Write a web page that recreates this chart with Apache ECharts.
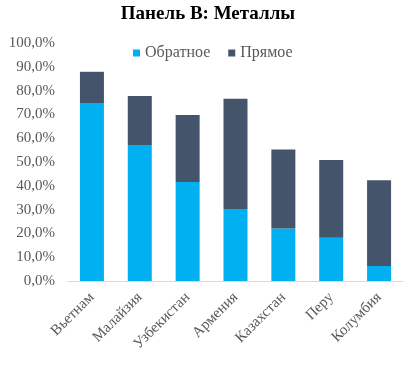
<!DOCTYPE html>
<html><head><meta charset="utf-8">
<script src="https://cdn.jsdelivr.net/npm/echarts@6/dist/echarts.min.js"></script>
<style>html,body{margin:0;padding:0;background:#fff}#c{width:416px;height:374px}</style>
</head><body><div id="c"></div>
<script>
const categories = ['Вьетнам','Малайзия','Узбекистан','Армения','Казахстан','Перу','Колумбия'];
const reverseVals = [74.8, 57.1, 41.6, 30.2, 22.1, 18.2, 6.3];
const directVals = [13.1, 20.6, 28.1, 46.4, 33.2, 32.6, 36.0];
const yTicks = [0,10,20,30,40,50,60,70,80,90,100];
const seriesNames = ['Обратное','Прямое'];
const FONT = '"Liberation Serif", "DejaVu Serif", serif';
const chart = echarts.init(document.getElementById('c'));
chart.setOption({
  animation: false,
  title: { text: 'Панель B: Металлы', left: 'center', top: 0,
    textStyle: { fontFamily: FONT, fontSize: 19, fontWeight: 'bold', color: '#000' } },
  legend: { top: 40, left: 128, itemWidth: 7, itemHeight: 7, itemGap: 18,
    icon: 'rect', textStyle: { fontFamily: FONT, fontSize: 16, color: '#595959' },
    data: seriesNames },
  grid: { left: 68, right: 13, top: 43, bottom: 93 },
  xAxis: { type: 'category', data: categories,
    axisLine: { lineStyle: { color: '#D9D9D9' } }, axisTick: { show: false },
    axisLabel: { rotate: 45, interval: 0, margin: 14, fontFamily: FONT, fontSize: 15, color: '#595959' } },
  yAxis: { type: 'value', min: yTicks[0], max: yTicks[yTicks.length-1], interval: 10,
    splitLine: { show: false }, axisLine: { show: false }, axisTick: { show: false },
    axisLabel: { fontFamily: FONT, fontSize: 15, color: '#595959', margin: 13,
      formatter: v => v.toFixed(1).replace('.', ',') + '%' } },
  series: [
    { name: seriesNames[0], type: 'bar', stack: 's', data: reverseVals, barWidth: 24,
      itemStyle: { color: '#00B0F0' } },
    { name: seriesNames[1], type: 'bar', stack: 's', data: directVals, barWidth: 24,
      itemStyle: { color: '#44546A' } }
  ]
});
</script></body></html>
